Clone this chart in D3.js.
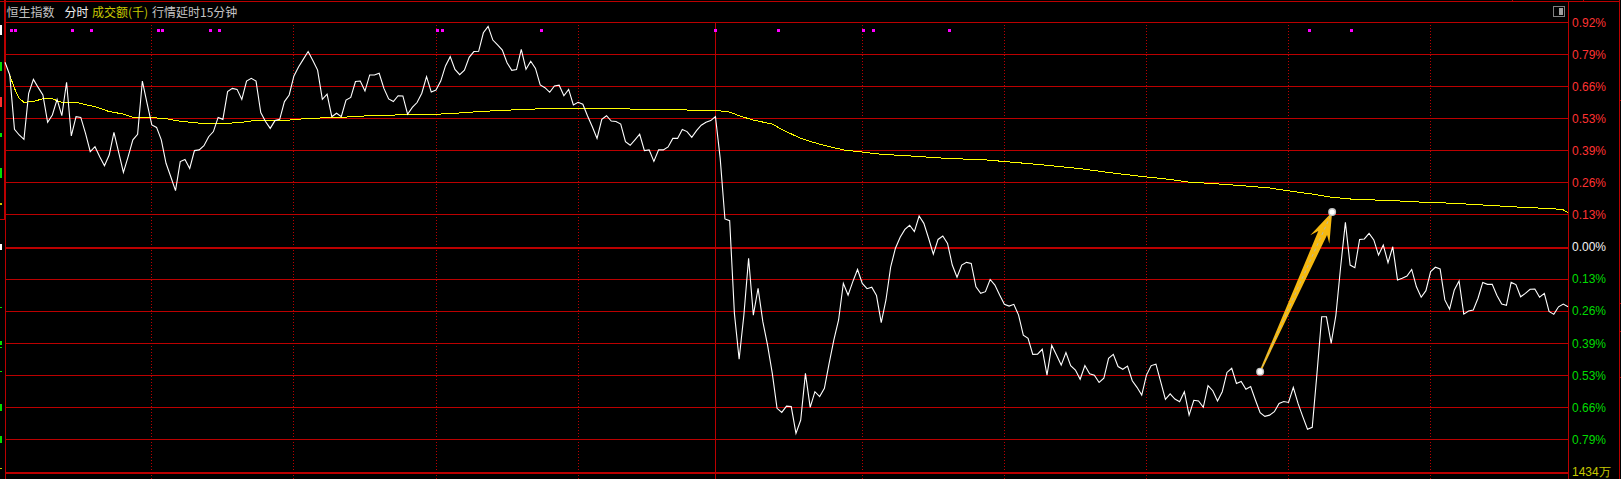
<!DOCTYPE html>
<html><head><meta charset="utf-8">
<script src="https://cdn.jsdelivr.net/npm/d3@7"></script>
<style>html,body{margin:0;padding:0;background:#000;overflow:hidden}svg{display:block}</style>
</head><body><div id="c"></div>
<script>
const priceValues = [
.757,.705,.482,.459,.441,.630,.687,.654,.623,.511,
.541,.605,.538,.675,.455,.534,.531,.466,.391,.411,
.370,.333,.377,.470,.388,.306,.370,.439,.462,.680,
.589,.500,.490,.439,.343,.288,.231,.350,.359,.322,
.395,.398,.415,.452,.473,.531,.523,.637,.650,.646,
.605,.680,.691,.680,.551,.514,.486,.518,.523,.596,
.623,.701,.739,.770,.801,.764,.725,.605,.626,.534,
.548,.534,.602,.613,.678,.680,.639,.705,.705,.712,
.650,.607,.596,.620,.619,.544,.572,.592,.630,.698,
.635,.643,.680,.742,.780,.728,.706,.725,.777,.801,
.802,.878,.904,.848,.828,.807,.755,.724,.727,.810,
.728,.761,.732,.664,.653,.634,.660,.663,.620,.646,
.582,.593,.585,.537,.493,.445,.523,.538,.516,.514,
.504,.432,.417,.439,.462,.395,.398,.351,.398,.398,
.410,.445,.445,.482,.473,.449,.477,.499,.511,.518,
.534,.363,.115,.108,-.272,-.460,-.279,-.046,-.279,-.169,
-.306,-.402,-.518,-.661,-.678,-.652,-.654,-.764,-.709,-.518,
-.657,-.593,-.613,-.579,-.477,-.381,-.299,-.149,-.197,-.142,
-.092,-.149,-.171,-.165,-.199,-.310,-.217,-.081,-.005,.040,
.072,.089,.063,.127,.097,.036,-.029,.031,.045,.015,
-.074,-.124,-.074,-.063,-.067,-.163,-.190,-.183,-.133,-.156,
-.197,-.235,-.242,-.235,-.279,-.361,-.374,-.440,-.439,-.419,
-.525,-.403,-.443,-.484,-.433,-.486,-.504,-.542,-.486,-.520,
-.525,-.555,-.538,-.456,-.440,-.490,-.501,-.488,-.548,-.575,
-.607,-.525,-.486,-.480,-.552,-.624,-.602,-.623,-.634,-.593,
-.689,-.628,-.631,-.657,-.568,-.589,-.631,-.593,-.514,-.497,
-.559,-.551,-.583,-.572,-.627,-.679,-.694,-.689,-.675,-.641,
-.633,-.637,-.575,-.641,-.695,-.747,-.739,-.518,-.286,-.286,
-.395,-.279,-.081,.101,-.074,-.085,.031,.033,.056,.029,
-.033,.008,-.064,.001,-.135,-.128,-.119,-.092,-.163,-.206,
-.179,-.101,-.083,-.090,-.217,-.255,-.176,-.139,-.275,-.262,
-.258,-.210,-.145,-.153,-.153,-.199,-.234,-.239,-.145,-.154,
-.204,-.190,-.173,-.172,-.206,-.190,-.264,-.276,-.245,-.234,
-.245];
const avgMinutes = [1,2,3,4,6,8,10,12,15,17,19,22,25,27,31,34,37,40,42,47,50,53,60,64,70,74,78,83,91,95,100,105,110,115,130,133,150,153,155,158,162,164,168,172,177,181,185,192,199,207,213,220,227,234,241,246,250,255,260,267,271,276,280,285,292,299,306,313,320,327,329,330];
const avgValues = [.705,.650,.609,.593,.597,.607,.607,.593,.593,.583,.575,.555,.545,.531,.530,.526,.515,.510,.505,.507,.511,.519,.520,.527,.531,.534,.540,.541,.544,.548,.555,.560,.564,.568,.568,.564,.560,.553,.538,.520,.504,.482,.445,.421,.398,.389,.380,.372,.363,.357,.347,.335,.321,.303,.287,.277,.266,.260,.253,.242,.230,.217,.204,.195,.191,.184,.179,.171,.163,.157,.152,.141];
const magentaMinutes = [1.37,2.22,14.25,18.26,32.41,33.26,43.4,45.3,91.32,92.38,113.28,150.1,163.3,181.3,183.4,199.4,275.4,284.3];
const dottedMinutes = [31,61,91,121,181,211,241,271,301];
const lunchMinute = 150;
const upperTicks = [.9198,.7884,.657,.5256,.3942,.2628,.1314];
const lowerTicks = [-.1314,-.2628,-.3942,-.5256,-.657,-.7884];
const zeroTick = 0, bottomTick = -.92;
const arrowFrom = {minute:265.0, pct:-.511};
const arrowTo = {minute:280.2, pct:.143};
const volumeLabel = "1434万";
const titleParts = [
  {text:"恒生指数", color:"#c4c4c4"},
  {text:"分时", color:"#f0f0f0"},
  {text:"成交额(千)", color:"#c8c800"},
  {text:"行情延时15分钟", color:"#c4c4c4"}
];
const titleStarts = [6.5,64.5,92,152];
const edgeMarks = [[25,35,"#fff"],[62,71,"#00e000"],[97,107,"#ff3030"],[133,137,"#00e000"],[168,178,"#00e000"],[203,205,"#c8c800"],[244,250,"#fff"],[307,308,"#00e000"],[341,345,"#00e000"],[347,348,"#00e000"],[371,372,"#00e000"],[404,411,"#00e000"],[436,443,"#00e000"],[468,469,"#c8c800"]];
const rightTicks = [100,303,331,377];

const W=1621,H=479, RED="#bb0000";
const x=d3.scaleLinear().domain([0,330]).range([5,1568]);
const y=d3.scaleLinear().domain([.92,-.92]).range([22.5,471.5]);
const svg=d3.select("#c").append("svg").attr("width",W).attr("height",H).style("background","#000");
const px=v=>Math.floor(v)+.5;

// frame
const frame=svg.append("g").attr("shape-rendering","crispEdges");
const hl=(yy,x1,x2,w=1)=>frame.append("line").attr("x1",x1).attr("x2",x2).attr("y1",yy).attr("y2",yy).attr("stroke",RED).attr("stroke-width",w);
const vl=(xx,y1,y2,w=1,dash=null)=>frame.append("line").attr("x1",xx).attr("x2",xx).attr("y1",y1).attr("y2",y2).attr("stroke",RED).attr("stroke-width",w).attr("stroke-dasharray",dash);
hl(1.5,0,1620);
upperTicks.concat(lowerTicks).forEach(v=>hl(px(y(v)),5,1568));
hl(248,5,1568,2);
hl(473,5,1568,2);
dottedMinutes.forEach(m=>vl(px(x(m)),25,H,1,"1 2"));
vl(px(x(lunchMinute)),22,H);
vl(5.5,0,H);
vl(4.5,0,219);
hl(219.5,0,5);
vl(px(x(330)),1,H);
vl(1619.5,0,H);
rightTicks.forEach(t=>hl(t+.5,1619,1621));
[1512,1583].forEach(t=>frame.append("line").attr("x1",t+.5).attr("x2",t+.5).attr("y1",0).attr("y2",1).attr("stroke",RED));

// left-edge remnants of the clipped axis
svg.append("g").attr("shape-rendering","crispEdges").selectAll("rect").data(edgeMarks).join("rect")
  .attr("x",0).attr("width",2).attr("y",d=>d[0]).attr("height",d=>d[1]-d[0]).attr("fill",d=>d[2]);

// magenta marks
svg.append("g").attr("shape-rendering","crispEdges").selectAll("rect").data(magentaMinutes).join("rect")
  .attr("x",m=>Math.round(x(m)-1.5)).attr("y",29).attr("width",3).attr("height",3).attr("fill","#ff00ff");

// series
const avgLine=d3.line().x((d,i)=>x(avgMinutes[i])).y(d=>y(d));
const priceLine=d3.line().x((d,i)=>x(i)).y(d=>y(d));
svg.append("path").attr("d",avgLine(avgValues)).attr("fill","none").attr("stroke","#ffff00").attr("stroke-width",1).attr("shape-rendering","crispEdges");
svg.append("path").attr("d",priceLine(priceValues)).attr("fill","none").attr("stroke","#fff").attr("stroke-width",1.1);

// arrow annotation
const ax=x(arrowFrom.minute),ay=y(arrowFrom.pct),bx=x(arrowTo.minute),by=y(arrowTo.pct);
const len=Math.hypot(bx-ax,by-ay),ux=(bx-ax)/len,uy=(by-ay)/len,nx=-uy,ny=ux;
const at=(back,side)=>[bx-ux*back+nx*side,by-uy*back+ny*side];
svg.append("path").attr("fill","#f6b90f").attr("d",d3.line()([
  [ax+nx*.8,ay+ny*.8],at(23,4.8),at(30,10.5),[bx,by],at(30,-10.5),at(23,-4.8),[ax-nx*.8,ay-ny*.8]])+"Z");
svg.append("line").attr("x1",ax).attr("y1",ay).attr("x2",bx).attr("y2",by).attr("stroke","#b9b9a8").attr("stroke-width",1).attr("stroke-dasharray","3 3");
[[ax,ay],[bx,by]].forEach(p=>{
  svg.append("circle").attr("cx",p[0]).attr("cy",p[1]).attr("r",4).attr("fill","#c4c4c4");
  svg.append("circle").attr("cx",p[0]).attr("cy",p[1]).attr("r",2.6).attr("fill","#fff");
});

// axis labels
const axisG=svg.append("g").attr("transform","translate(1572,0)");
const ff="'Liberation Sans',Arial,sans-serif";
const makeAxis=(vals,color,fmt)=>{
  const g=axisG.append("g").call(d3.axisRight(y).tickValues(vals).tickSize(0).tickPadding(0).tickFormat(fmt));
  g.select(".domain").remove();
  g.selectAll("text").attr("fill",color).style("font-family",ff).style("font-size","12px");
  return g;
};
const pctFmt=v=>Math.abs(v).toFixed(2)+"%";
makeAxis(upperTicks,"#ff3232",pctFmt);
makeAxis(lowerTicks,"#00dc00",pctFmt);
makeAxis([zeroTick],"#f4f4f4",pctFmt);
makeAxis([bottomTick],"#c8c800",()=>volumeLabel);

// title
svg.append("g").selectAll("text").data(titleParts).join("text")
  .attr("x",(d,i)=>titleStarts[i]).attr("y",16.5).attr("fill",d=>d.color)
  .style("font-family","'Noto Sans CJK SC','Noto Sans',sans-serif").style("font-size","12px").text(d=>d.text);

// window button
const btn=svg.append("g").attr("shape-rendering","crispEdges");
btn.append("rect").attr("x",1553.5).attr("y",6.5).attr("width",11).attr("height",10).attr("rx",1).attr("fill","none").attr("stroke","#808080");
btn.append("rect").attr("x",1559).attr("y",8).attr("width",4).attr("height",7).attr("fill","#a0a0a0");
</script></body></html>
